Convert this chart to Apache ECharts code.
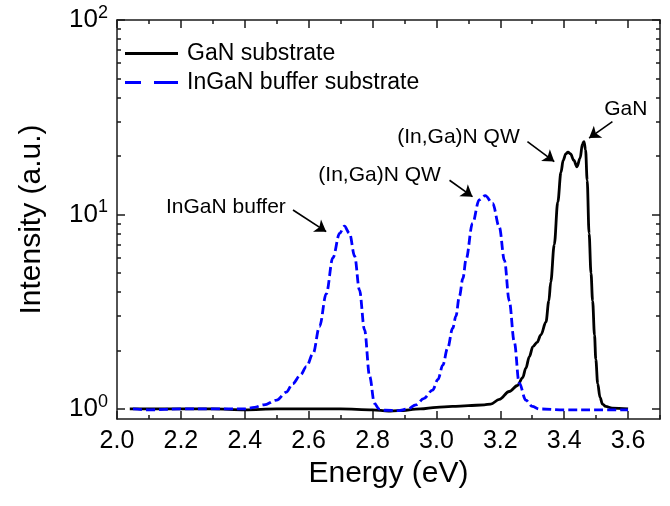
<!DOCTYPE html>
<html>
<head>
<meta charset="utf-8">
<script src="https://cdn.jsdelivr.net/npm/echarts@6/dist/echarts.min.js"></script>
<style>html,body{margin:0;padding:0;background:#fff;}#c{width:670px;height:506px;}</style>
</head>
<body>
<div id="c"></div>
<script>
const seriesNames = ['GaN substrate', 'InGaN buffer substrate'];
const energyGaN = [2.04,2.1,2.2,2.3,2.4,2.5,2.6,2.7,2.8,2.85,2.88,2.95,3.0,3.05,3.1,3.15,3.17,3.197,3.228,3.254,3.27,3.28,3.291,3.302,3.315,3.327,3.343,3.352,3.358,3.369,3.38,3.39,3.397,3.405,3.412,3.42,3.43,3.44,3.45,3.457,3.462,3.467,3.472,3.478,3.484,3.489,3.495,3.499,3.505,3.512,3.52,3.53,3.55,3.6];
const intensityGaN = [1.0,1.0,1.0,1.0,0.99,1.0,1.0,1.0,0.99,0.975,0.98,1.0,1.02,1.03,1.04,1.05,1.06,1.12,1.23,1.32,1.45,1.62,1.86,2.09,2.2,2.4,2.8,3.6,4.5,7.0,11.6,16.5,19.0,20.5,20.9,20.5,19.0,17.6,19.5,23.0,23.7,21.5,15.0,8.0,5.0,3.6,2.4,1.8,1.35,1.15,1.06,1.03,1.01,1.0];
const energyInGaN = [2.05,2.1,2.2,2.3,2.35,2.4,2.43,2.46,2.5,2.53,2.55,2.575,2.593,2.614,2.634,2.655,2.676,2.697,2.712,2.728,2.744,2.759,2.775,2.791,2.806,2.82,2.84,2.88,2.91,2.936,2.96,2.988,3.005,3.02,3.035,3.051,3.061,3.072,3.083,3.093,3.113,3.134,3.153,3.176,3.197,3.213,3.228,3.244,3.259,3.28,3.3,3.322,3.4,3.5,3.6];
const intensityInGaN = [1.0,0.99,1.0,1.0,1.0,1.0,1.02,1.05,1.11,1.22,1.35,1.5,1.65,1.93,2.65,3.9,6.0,8.0,8.7,8.0,6.1,4.1,2.55,1.47,1.07,1.0,0.985,0.98,1.0,1.05,1.13,1.25,1.42,1.68,2.05,2.6,3.0,3.8,4.7,5.9,9.0,11.9,12.5,11.4,8.6,5.8,3.6,2.2,1.36,1.11,1.03,1.0,0.99,0.99,0.99];
const xTickLabels = [2.0,2.2,2.4,2.6,2.8,3.0,3.2,3.4,3.6];
const yMajorTicks = [1,10,100];
const yMinorTicks = [2,3,4,5,6,7,8,9,20,30,40,50,60,70,80,90];
const annotationTexts = ['InGaN buffer','(In,Ga)N QW','(In,Ga)N QW','GaN'];
const annotationPos = [[2.341,10.93],[2.822,15.96],[3.069,25.1],[3.593,34.9]];
const arrowStart = [[2.551,10.55],[3.041,15.0],[3.285,23.7],[3.551,30.0]];
const arrowEnd = [[2.655,8.16],[3.113,12.35],[3.369,18.7],[3.478,24.7]];

const FONT = 'Arial, "Liberation Sans", sans-serif';
const AX = '#1a1a1a';
const X_MIN = 2.0, X_MAX = 3.7, Y_MIN = 0.888, Y_MAX = 100;
const ICON_SOLID = 'path://M0,0H53V3H0Z';
const ICON_DASH = 'path://M0,0H16V3H0Z M29,0H53V3H29Z';

function pairs(xs, ys){ return xs.map((x,i)=>[x, ys[i]]); }

const chart = echarts.init(document.getElementById('c'), null, {renderer:'canvas'});

const xBase = {type:'value', min:X_MIN, max:X_MAX, gridIndex:0, splitLine:{show:false}};
const yBase = {type:'log', logBase:10, min:Y_MIN, max:Y_MAX, gridIndex:0, splitLine:{show:false}};

const option = {
  animation:false,
  backgroundColor:'#fff',
  textStyle:{fontFamily:FONT},
  grid:{left:117, right:10, top:20, bottom:87, containLabel:false},
  legend:{
    orient:'vertical', left:125, top:42, padding:0, itemGap:6,
    itemWidth:53, itemHeight:3,
    data:[{name:seriesNames[0], icon:ICON_SOLID},{name:seriesNames[1], icon:ICON_DASH}],
    textStyle:{fontSize:23, color:'#000', fontFamily:FONT, padding:[0,0,0,4]}
  },
  xAxis:[
    Object.assign({}, xBase, {position:'bottom', interval:0.2,
      name:'Energy (eV)', nameLocation:'middle', nameGap:36,
      nameTextStyle:{fontSize:30, color:'#000', fontFamily:FONT},
      axisLine:{show:true, lineStyle:{color:AX, width:1.5}},
      axisTick:{show:true, inside:true, length:8, lineStyle:{color:AX, width:1.5}, customValues:xTickLabels},
      axisLabel:{show:true, fontSize:25, color:'#000', margin:10, fontFamily:FONT, customValues:xTickLabels,
        formatter:v=>Number(v).toFixed(1)}
    }),
    Object.assign({}, xBase, {position:'bottom', interval:0.1,
      axisLine:{show:false}, axisLabel:{show:false},
      axisTick:{show:true, inside:true, length:4, lineStyle:{color:AX, width:1.5}}
    }),
    Object.assign({}, xBase, {position:'top', interval:0.2,
      axisLine:{show:true, lineStyle:{color:AX, width:1.5}}, axisLabel:{show:false},
      axisTick:{show:true, inside:true, length:8, lineStyle:{color:AX, width:1.5}, customValues:xTickLabels}
    }),
    Object.assign({}, xBase, {position:'top', interval:0.1,
      axisLine:{show:false}, axisLabel:{show:false},
      axisTick:{show:true, inside:true, length:4, lineStyle:{color:AX, width:1.5}}
    })
  ],
  yAxis:[
    Object.assign({}, yBase, {position:'left',
      name:'Intensity (a.u.)', nameLocation:'middle', nameGap:70,
      nameTextStyle:{fontSize:30, color:'#000', fontFamily:FONT},
      axisLine:{show:true, lineStyle:{color:AX, width:1.5}},
      axisTick:{show:true, inside:true, length:8, lineStyle:{color:AX, width:1.5}, customValues:yMajorTicks},
      axisLabel:{show:true, margin:9, customValues:yMajorTicks,
        formatter:v=>'{b|10}{s|' + Math.round(Math.log10(v)) + '}',
        rich:{b:{fontSize:26, color:'#000', fontFamily:FONT}, s:{fontSize:18, color:'#000', fontFamily:FONT, padding:[0,0,14,0]}}}
    }),
    Object.assign({}, yBase, {position:'left',
      axisLine:{show:false}, axisLabel:{show:false},
      axisTick:{show:true, inside:true, length:4, lineStyle:{color:AX, width:1.5}, customValues:yMinorTicks}
    }),
    Object.assign({}, yBase, {position:'right',
      axisLine:{show:true, lineStyle:{color:AX, width:1.5}}, axisLabel:{show:false},
      axisTick:{show:true, inside:true, length:8, lineStyle:{color:AX, width:1.5}, customValues:yMajorTicks}
    }),
    Object.assign({}, yBase, {position:'right',
      axisLine:{show:false}, axisLabel:{show:false},
      axisTick:{show:true, inside:true, length:4, lineStyle:{color:AX, width:1.5}, customValues:yMinorTicks}
    })
  ],
  series:[
    {
      name:seriesNames[0], type:'line', xAxisIndex:0, yAxisIndex:0,
      data:pairs(energyGaN, intensityGaN), showSymbol:false, symbol:'none',
      smooth:0.35, smoothMonotone:'x',
      lineStyle:{color:'#000', width:2.8}, itemStyle:{color:'#000'}, z:3,
      markPoint:{
        silent:true, symbol:'circle', symbolSize:0,
        label:{show:true, position:'inside', color:'#000', fontSize:21, fontFamily:FONT},
        data:annotationTexts.map((t,i)=>({coord:annotationPos[i], value:t, label:{formatter:t}}))
      },
      markLine:{
        silent:true, symbol:['none','arrow'], symbolSize:11,
        label:{show:false},
        lineStyle:{color:'#000', width:1.6, type:'solid'},
        data:arrowStart.map((s,i)=>[{coord:s},{coord:arrowEnd[i]}])
      }
    },
    {
      name:seriesNames[1], type:'line', xAxisIndex:0, yAxisIndex:0,
      data:pairs(energyInGaN, intensityInGaN), showSymbol:false, symbol:'none',
      smooth:0.35, smoothMonotone:'x',
      lineStyle:{color:'#0000ff', width:2.8, type:[9,4]}, itemStyle:{color:'#0000ff'}, z:4
    }
  ]
};
chart.setOption(option);
</script>
</body>
</html>
